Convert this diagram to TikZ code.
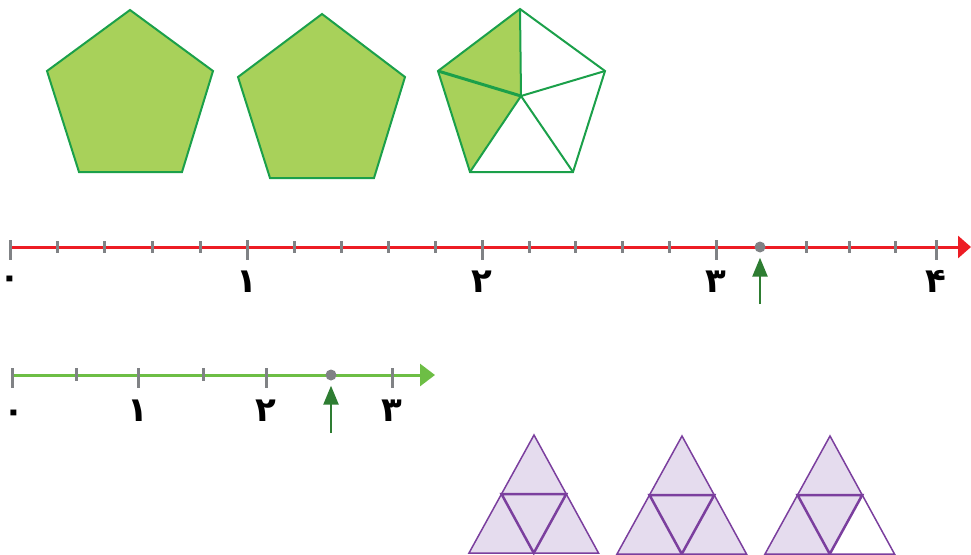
\documentclass[tikz,border=0pt]{standalone}
\usepackage{fontspec}
\newfontfamily\fa[Script=Arabic]{DejaVu Sans}
\usetikzlibrary{arrows.meta}
\definecolor{pfill}{HTML}{A8D15A}
\definecolor{pline}{HTML}{1BA04A}
\definecolor{redl}{HTML}{ED1C24}
\definecolor{greenl}{HTML}{6DBE45}
\definecolor{tickc}{HTML}{808285}
\definecolor{arrc}{HTML}{2E7D32}
\definecolor{tfill}{HTML}{E5DCEE}
\definecolor{tline}{HTML}{7B3F9E}
\tikzset{
  pent/.style={fill=pfill, draw=pline, line width=2pt, line join=miter},
  pentline/.style={draw=pline, line width=2pt},
  majtick/.style={draw=tickc, line width=3pt},
  mintick/.style={draw=tickc, line width=3pt},
  numlbl/.style={font=\fontsize{34}{34}\selectfont\fa\bfseries, anchor=base, inner sep=0pt},
  dotn/.style={circle, fill=tickc, inner sep=0pt, minimum size=11pt},
  uparrow/.style={draw=arrc, line width=2.5pt, shorten >=5pt, -{Triangle[length=19pt,width=15pt]}},
  tri/.style={draw=tline, line width=1.5pt, line join=miter},
  triin/.style={draw=tline, line width=2.5pt},
}
\begin{document}
\begin{tikzpicture}[x=1pt,y=-1pt]
\useasboundingbox (0,0) rectangle (971,554);
% pentagons
\filldraw[pent] (130,10) -- (213,71) -- (182,172) -- (79,172) -- (47,71) -- cycle;
\filldraw[pent] (322,14) -- (405,77) -- (374,178) -- (270,178) -- (238,77) -- cycle;
\coordinate (pT) at (520,9);
\coordinate (pR) at (605,71);
\coordinate (pBR) at (573,172);
\coordinate (pBL) at (470,172);
\coordinate (pL) at (438,71);
\coordinate (pC) at (521,96);
\fill[pfill] (pT) -- (pC) -- (pBL) -- (pL) -- cycle;
\draw[pentline, line join=miter] (pT) -- (pR) -- (pBR) -- (pBL) -- (pL) -- cycle;
\draw[pentline] (pC) -- (pT) (pC) -- (pR) (pC) -- (pBR) (pC) -- (pBL);
\draw[pentline, line width=3pt] (pC) -- (pL);
% red number line
\draw[draw=redl, line width=3pt, -{Triangle[length=13pt,width=22pt]}] (10,247) -- (971,247);
\foreach \x in {57,104,152,200,294,341,388,435,529,575,622,669,806,849,895}
  \draw[mintick] (\x,241) -- (\x,253);
\foreach \x/\n in {10/a0,247/a1,482/a2,716/a3,936/a4}
  \draw[majtick] (\x,240) -- (\x,260) coordinate (\n);
\node[numlbl] (la0) at (10,288) {۰};
\node[numlbl] (la1) at (247,292) {۱};
\node[numlbl] (la2) at (482,292) {۲};
\node[numlbl] (la3) at (716,292) {۳};
\node[numlbl] (la4) at (936,292) {۴};
\node[dotn] (dA) at (760,247) {};
\coordinate (sA) at (760,304);
\draw[uparrow] (sA) -- (dA.south);
% green number line
\draw[draw=greenl, line width=3pt, -{Triangle[length=15pt,width=22pt]}] (12,375) -- (435,375);
\foreach \x in {76,203}
  \draw[mintick] (\x,368) -- (\x,381);
\foreach \x/\n in {12/b0,138/b1,266/b2,392/b3}
  \draw[majtick] (\x,368) -- (\x,388) coordinate (\n);
\node[numlbl] (lb0) at (14,422) {۰};
\node[numlbl] (lb1) at (138,421) {۱};
\node[numlbl] (lb2) at (266,421) {۲};
\node[numlbl] (lb3) at (392,421) {۳};
\node[dotn] (dB) at (331,375) {};
\coordinate (sB) at (331,433);
\draw[uparrow] (sB) -- (dB.south);
% triangles
\foreach \ax/\ay/\k in {534/435/4,682/436/4,830/436/3}{
  \begin{scope}[shift={(\ax,\ay)}]
    \coordinate (A) at (0,0);
    \coordinate (L) at (-65,118);
    \coordinate (R) at (64.5,118);
    \coordinate (ML) at (-32.5,59);
    \coordinate (MR) at (32.25,59);
    \coordinate (MB) at (-0.25,118);
    \ifnum\k=4
      \fill[tfill] (A) -- (R) -- (L) -- cycle;
    \else
      \fill[tfill] (A) -- (MR) -- (MB) -- (L) -- cycle;
    \fi
    \draw[tri] (A) -- (R) -- (L) -- cycle;
    \draw[triin] (ML) -- (MR) -- (MB) -- cycle;
  \end{scope}
}
\end{tikzpicture}
\end{document}
